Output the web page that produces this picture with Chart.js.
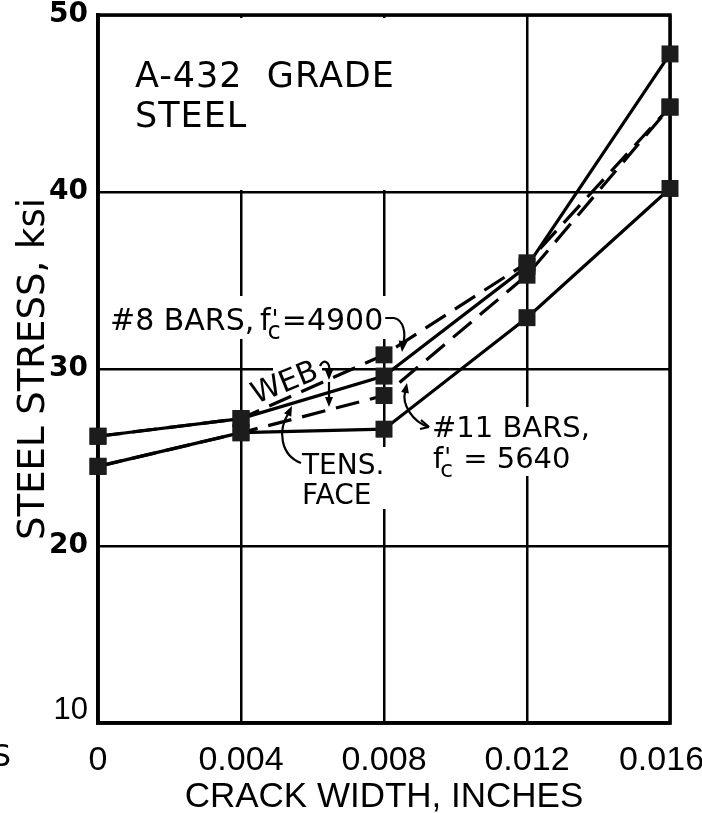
<!DOCTYPE html>
<html><head><meta charset="utf-8">
<script src="https://cdn.jsdelivr.net/npm/chart.js@4"></script>
<style>html,body{margin:0;padding:0;background:#fff;}canvas{display:block;}</style>
</head><body>
<canvas id="c" width="702" height="813"></canvas>
<script>
// ---- data ----
const crackWidths = [0, 0.004, 0.008, 0.012, 0.016];
const bars8Web    = [26.2, 27.2, 30.8, 36.0, 44.8];   // #8 bars, f'c=4900, web (dashed)
const bars8Tens   = [26.2, 27.2, 29.6, 35.8, 47.8];   // #8 bars, f'c=4900, tension face (solid)
const bars11Web   = [24.5, 26.4, 28.5, 35.3, 44.8];   // #11 bars, f'c=5640, web (dashed)
const bars11Tens  = [24.5, 26.4, 26.6, 32.9, 40.2];   // #11 bars, f'c=5640, tension face (solid)
const xTickValues = [0, 0.004, 0.008, 0.012, 0.016];
const xTickLabels = ['0', '0.004', '0.008', '0.012', '0.016'];
const yTickValues = [10, 20, 30, 40, 50];

const FONT = "'DejaVu Sans', sans-serif";
const NARROW = "'Liberation Sans', sans-serif";

const pts = arr => crackWidths.map((x, i) => ({x, y: arr[i]}));
const ds = (label, arr, dashed) => ({
  label, data: pts(arr),
  borderColor: '#000', borderWidth: 3.2, borderDash: dashed ? [24, 11] : [],
  pointStyle: 'rect', pointRadius: 12, pointBorderWidth: 0,
  pointBackgroundColor: '#1c1c1c', tension: 0, clip: false
});

function arrowHead(ctx, x, y, ang, len = 11, half = 4.5) {
  ctx.beginPath();
  ctx.moveTo(x, y);
  ctx.lineTo(x - len * Math.cos(ang) + half * Math.sin(ang), y - len * Math.sin(ang) - half * Math.cos(ang));
  ctx.lineTo(x - len * Math.cos(ang) - half * Math.sin(ang), y - len * Math.sin(ang) + half * Math.cos(ang));
  ctx.closePath();
  ctx.fill();
}

function fcText(ctx, x, yb, size, rest) {
  ctx.font = `${size}px ${FONT}`;
  ctx.fillText('f', x, yb);
  const wf = ctx.measureText('f').width;
  ctx.font = `${size * 0.85}px ${FONT}`;
  ctx.fillText("'", x + wf + 1, yb - 3);
  ctx.font = `${size * 0.8}px ${FONT}`;
  ctx.fillText('c', x + wf - 3, yb + size * 0.3);
  const wc = ctx.measureText('c').width;
  ctx.font = `${size}px ${FONT}`;
  ctx.fillText(rest, x + wf - 3 + wc + 1, yb);
  return x + wf - 2 + wc + ctx.measureText(rest).width;
}

const annot = {
  id: 'annot',
  beforeDatasetsDraw(chart) {
    const {ctx, chartArea: a} = chart;
    ctx.save();
    ctx.fillStyle = '#fff';
    const R = (x0, y0, x1, y1) => ctx.fillRect(x0, y0, x1 - x0, y1 - y0);
    R(a.left + 3, a.top + 3, 512, 190);     // title box: no vertical grid above 40
    R(105, 296, 396, 339);                  // "#8 BARS" label
    R(273, 358, 322, 380);                  // "WEB" label
    R(298, 447, 392, 509);                  // "TENS. FACE" label
    R(428, 407, 584, 476);                  // "#11 BARS" label
    ctx.strokeStyle = '#000';
    ctx.lineWidth = 3.5;
    ctx.strokeRect(a.left, a.top, a.right - a.left, a.bottom - a.top);
    ctx.restore();
  },
  afterDraw(chart) {
    const {ctx} = chart;
    ctx.save();
    ctx.fillStyle = '#000';
    ctx.strokeStyle = '#000';
    ctx.textBaseline = 'alphabetic';
    ctx.textAlign = 'left';

    // title block
    ctx.font = `35px ${FONT}`;
    ctx.letterSpacing = '1px';
    ctx.fillText('A-432  GRADE', 135, 87);
    ctx.fillText('STEEL', 135, 127);
    ctx.letterSpacing = '0px';

    // #8 bars label
    ctx.font = `30px ${FONT}`;
    ctx.fillText('#8 BARS,', 110, 330);
    let end = fcText(ctx, 260, 330, 30, '=4900');
    ctx.lineWidth = 2.2;
    ctx.beginPath();
    ctx.moveTo(end + 2, 318);
    ctx.lineTo(394, 318);
    ctx.bezierCurveTo(404, 320, 406, 334, 403, 344);
    ctx.stroke();
    arrowHead(ctx, 402, 352, Math.PI / 2 + 0.1);

    // WEB label
    ctx.save();
    ctx.translate(256, 404);
    ctx.rotate(-22 * Math.PI / 180);
    ctx.font = `30px ${FONT}`;
    ctx.fillText('WEB', 0, 0);
    ctx.restore();
    ctx.beginPath();
    ctx.moveTo(320, 366);
    ctx.bezierCurveTo(323, 358, 331, 362, 329, 372);
    ctx.stroke();
    arrowHead(ctx, 329, 380, Math.PI / 2, 10, 4);
    ctx.beginPath();
    ctx.moveTo(329, 382);
    ctx.lineTo(329, 398);
    ctx.stroke();
    arrowHead(ctx, 329, 407, Math.PI / 2, 10, 4);

    // TENS. FACE label
    ctx.font = `28px ${FONT}`;
    ctx.fillText('TENS.', 302, 474);
    ctx.fillText('FACE', 302, 504);
    ctx.beginPath();
    ctx.moveTo(301, 463);
    ctx.bezierCurveTo(280, 455, 278, 430, 288, 414);
    ctx.stroke();
    arrowHead(ctx, 292, 406, -Math.PI / 2 + 0.45, 10, 4);

    // #11 bars label
    ctx.font = `29px ${FONT}`;
    ctx.fillText('#11 BARS,', 432, 437);
    fcText(ctx, 433, 468, 29, ' = 5640');
    ctx.beginPath();
    ctx.moveTo(429, 427);
    ctx.bezierCurveTo(412, 422, 402, 404, 405, 392);
    ctx.stroke();
    arrowHead(ctx, 407, 383, -Math.PI / 2 + 0.2, 10, 4);
    ctx.beginPath();
    ctx.moveTo(429, 427);
    ctx.lineTo(421, 420);
    ctx.moveTo(429, 427);
    ctx.lineTo(420, 429);
    ctx.stroke();

    // cropped fragment at left edge of the scan
    ctx.font = `30px ${FONT}`;
    ctx.fillText('S', -8, 766);
    ctx.restore();
  }
};

new Chart(document.getElementById('c'), {
  type: 'line',
  data: {
    datasets: [
      ds("#8 bars, f'c=4900, web", bars8Web, true),
      ds("#8 bars, f'c=4900, tens. face", bars8Tens, false),
      ds("#11 bars, f'c=5640, web", bars11Web, true),
      ds("#11 bars, f'c=5640, tens. face", bars11Tens, false)
    ]
  },
  options: {
    responsive: false, animation: false, devicePixelRatio: 1,
    layout: {padding: {top: 15, right: 32, left: 0, bottom: 0}},
    plugins: {legend: {display: false}, tooltip: {enabled: false}},
    scales: {
      x: {
        type: 'linear', min: 0, max: 0.016,
        afterBuildTicks: s => { s.ticks = xTickValues.map(v => ({value: v})); },
        ticks: {
          autoSkip: false, maxRotation: 0, minRotation: 0, padding: 21, color: '#000',
          font: {family: NARROW, size: 34, lineHeight: 1},
          callback: (v, i) => i === xTickLabels.length - 1 ? xTickLabels[i] + '\u2002' : xTickLabels[i]
        },
        grid: {color: '#000', lineWidth: 2.5, drawTicks: false},
        border: {color: '#000', width: 3.5},
        title: {display: true, text: 'CRACK WIDTH, INCHES', color: '#000',
          font: {family: NARROW, size: 35, lineHeight: 0.9}, padding: {top: 0, bottom: 0}},
        afterFit: s => { s.height = 90; s.paddingLeft = 0; s.paddingRight = 0; }
      },
      y: {
        type: 'linear', min: 10, max: 50,
        afterBuildTicks: s => { s.ticks = yTickValues.map(v => ({value: v})); },
        ticks: {
          padding: 10, color: '#000',
          font: c => (c.tick && c.tick.value === 10)
            ? {family: NARROW, size: 31, lineHeight: 0.8}
            : {family: FONT, size: 28, weight: 'bold', lineHeight: 1},
          callback: v => v === 10 ? ['10', ''] : String(v)
        },
        grid: {color: '#000', lineWidth: 2.5, drawTicks: false},
        border: {color: '#000', width: 3.5},
        title: {display: true, text: 'STEEL STRESS, ksi', color: '#000',
          font: {family: FONT, size: 37, lineHeight: 1.2}, padding: {top: 12, bottom: 0}},
        afterFit: s => { s.width = 98; s.paddingTop = 0; s.paddingBottom = 0; }
      }
    }
  },
  plugins: [annot]
});
</script>
</body></html>
